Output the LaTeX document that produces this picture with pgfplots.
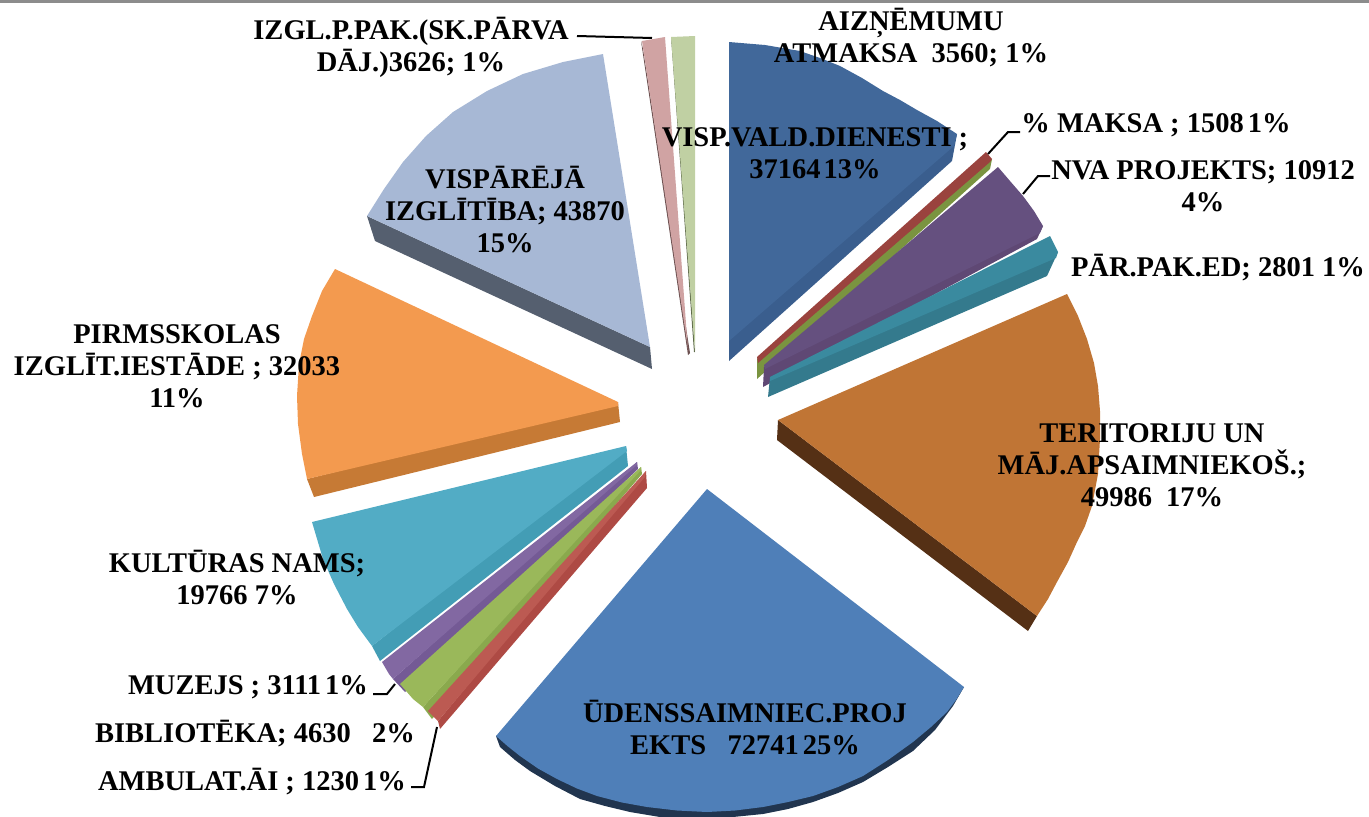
\documentclass[border=0pt]{standalone}
\usepackage{pgfplots}
\pgfplotsset{compat=1.18}
\usepackage{fontspec}
\setmainfont{Liberation Serif}
\definecolor{c3a5e8e}{HTML}{3A5E8E}
\definecolor{c41689a}{HTML}{41689A}
\definecolor{c7a9440}{HTML}{7A9440}
\definecolor{c9a433e}{HTML}{9A433E}
\definecolor{c5f4874}{HTML}{5F4874}
\definecolor{c65507f}{HTML}{65507F}
\definecolor{c347a8d}{HTML}{347A8D}
\definecolor{c3a8a9f}{HTML}{3A8A9F}
\definecolor{c553015}{HTML}{553015}
\definecolor{cc07535}{HTML}{C07535}
\definecolor{c21354f}{HTML}{21354F}
\definecolor{c4f7fb8}{HTML}{4F7FB8}
\definecolor{cae4a44}{HTML}{AE4A44}
\definecolor{cbc5a52}{HTML}{BC5A52}
\definecolor{c8aa94d}{HTML}{8AA94D}
\definecolor{c9ab85a}{HTML}{9AB85A}
\definecolor{c745a95}{HTML}{745A95}
\definecolor{c8268a2}{HTML}{8268A2}
\definecolor{c439db5}{HTML}{439DB5}
\definecolor{c52acc5}{HTML}{52ACC5}
\definecolor{cc67a35}{HTML}{C67A35}
\definecolor{cf39a4f}{HTML}{F39A4F}
\definecolor{c555f6f}{HTML}{555F6F}
\definecolor{ca7b8d5}{HTML}{A7B8D5}
\definecolor{c6b4f4f}{HTML}{6B4F4F}
\definecolor{cd0a3a3}{HTML}{D0A3A3}
\definecolor{c5e6a4a}{HTML}{5E6A4A}
\definecolor{cc0d0a3}{HTML}{C0D0A3}
\newcommand{\W}[2]{\addplot[fill=#1,draw=none,forget plot] coordinates {#2} -- cycle;}
\newcommand{\Ld}[1]{\addplot[black,line width=2pt,forget plot] coordinates {#1};}
\tikzset{lb/.style={font=\fontsize{28.5}{32}\selectfont\bfseries,align=center,inner sep=0pt,text=black}}
\begin{document}
\begin{tikzpicture}
\begin{axis}[scale only axis,width=1369pt,height=818pt,xmin=0,xmax=1369,ymin=0,ymax=818,y dir=reverse,hide axis,clip=true]
% top rule
\addplot[color=black!45,line width=3pt,forget plot] coordinates {(0,2.5) (1369,2.5)};
% visp. valdibas dienesti
\W{c3a5e8e}{(957,135) (952,162) (729,362) (729,340)}
\W{c41689a}{(729,43) (765,46) (800,52) (820,59) (840,67) (862,79) (883,92) (900,101) (917,111) (937,122) (957,135) (954,147) (729,342)}
% % maksa + green
\W{c7a9440}{(992,160) (990,170) (757,380) (757,360)}
\W{c9a433e}{(986,153) (992,160) (990,163) (758,364) (757,358)}
% nva
\W{c5f4874}{(1043,227) (1037,240) (763,388) (764,368)}
\W{c65507f}{(998,168) (1010,182) (1023,197) (1034,212) (1043,227) (1040,234) (765,370) (764,366)}
% par.pak
\W{c347a8d}{(1058,253) (1047,277) (768,398) (770,378)}
\W{c3a8a9f}{(1050,237) (1058,253) (1056,259) (770,382) (770,378)}
% territory
\W{c553015}{(778,421) (1037,617) (1028,632) (777,441)}
\W{cc07535}{(778,421) (1067,295) (1078,317) (1087,340) (1094,364) (1098,387) (1100,412) (1100,440) (1098,475) (1092,507) (1085,527) (1077,543) (1068,563) (1057,583) (1048,600) (1037,617)}
% water
\W{c21354f}{(496,737) (964,688) (953,707) (935,731) (913,752) (888,768) (863,783) (838,794) (813,803) (788,810) (763,815) (728,818.5) (693,820) (660,818) (630,813) (605,807) (580,800) (555,787) (530,772) (515,761) (500,748)}
\W{c4f7fb8}{(707,490) (964,688) (956,701) (947,713) (931,728) (913,743) (888,761) (863,777) (838,788) (813,797) (788,803) (763,808) (735,811.5) (707,813) (677,811.5) (647,808) (622,803.5) (597,797) (577,789.5) (557,780) (538,769.5) (520,757) (508,747.5) (496,737)}
% muzejs
\W{c745a95}{(637,463) (638,470) (405,693) (393,680)}
\W{c8268a2}{(637,463) (637,466) (393,680) (389,675) (382,663)}
% biblioteka
\W{c8aa94d}{(641,468) (642,475) (432,720) (423,708)}
\W{c9ab85a}{(641,468) (641,471) (423,708) (413,700) (400,685)}
% ambulat
\W{cae4a44}{(646,472) (647,489) (440,730) (438,722)}
\W{cbc5a52}{(646,472) (645,478) (438,722) (428,712)}
% kulturas
\W{c439db5}{(626,447) (628,467) (380,662) (372,647)}
\W{c52acc5}{(312,523) (626,447) (627,452) (372,647) (358,628) (347,610) (334,585) (323,560)}
% pirmsskola
\W{cc67a35}{(618,403) (620,423) (314,498) (307,480)}
\W{cf39a4f}{(335,270) (618,403) (618,407) (307,480) (302,455) (298,425) (297,397) (299,365) (304,340) (312,317) (322,292)}
% vispareja
\W{c555f6f}{(367,217) (650,348) (652,370) (375,242)}
\W{ca7b8d5}{(603,55) (563,63) (523,75) (487,92) (453,113) (426,137) (403,163) (384,190) (367,217) (650,348)}
% izgl
\W{c6b4f4f}{(641,42) (643,50) (690,354) (688,356)}
\W{cd0a3a3}{(642,42) (665,38) (688,352) (688,350)}
% aiznemumi
\W{c5e6a4a}{(671,38) (673,50) (695,353) (694,353)}
\W{cc0d0a3}{(671,38) (695,37) (695,352)}
% leaders
\Ld{(577,37) (652,39)}
\Ld{(988,155) (1008,133) (1020,133)}
\Ld{(1023,195) (1038,177) (1050,177)}
\Ld{(373,695) (387,695) (395,685)}
\Ld{(411,788) (424,788) (437,728)}
% labels
\node[lb] at (axis cs:911,39) {AIZŅĒMUMU\\ATMAKSA\ \ 3560; 1\%};
\node[lb] at (axis cs:815,154) {VISP.VALD.DIENESTI ;\\37164\hspace{3pt}13\%};
\node[lb] at (axis cs:1156,126) {\% MAKSA ; 1508\hspace{4pt}1\%};
\node[lb] at (axis cs:1203,187) {NVA PROJEKTS; 10912\\4\%};
\node[lb] at (axis cs:1218,269) {PĀR.PAK.ED; 2801 1\%};
\node[lb] at (axis cs:1152,466) {TERITORIJU UN\\MĀJ.APSAIMNIEKOŠ.;\\49986\ \ 17\%};
\node[lb] at (axis cs:745,729) {ŪDENSSAIMNIEC.PROJ\\EKTS\ \ \ 72741\hspace{4pt}25\%};
\node[lb] at (axis cs:248,688) {MUZEJS ; 3111\hspace{4pt}1\%};
\node[lb] at (axis cs:255,735) {BIBLIOTĒKA; 4630\ \ \ 2\%};
\node[lb] at (axis cs:252,783) {AMBULAT.ĀI ; 1230\hspace{4pt}1\%};
\node[lb] at (axis cs:237,579) {KULTŪRAS NAMS;\\19766 7\%};
\node[lb] at (axis cs:177,367) {PIRMSSKOLAS\\IZGLĪT.IESTĀDE ; 32033\\11\%};
\node[lb] at (axis cs:505,211) {VISPĀRĒJĀ\\IZGLĪTĪBA; 43870\\15\%};
\node[lb] at (axis cs:411,48) {IZGL.P.PAK.(SK.PĀRVA\\DĀJ.)3626; 1\%};
\end{axis}
\end{tikzpicture}
\end{document}
